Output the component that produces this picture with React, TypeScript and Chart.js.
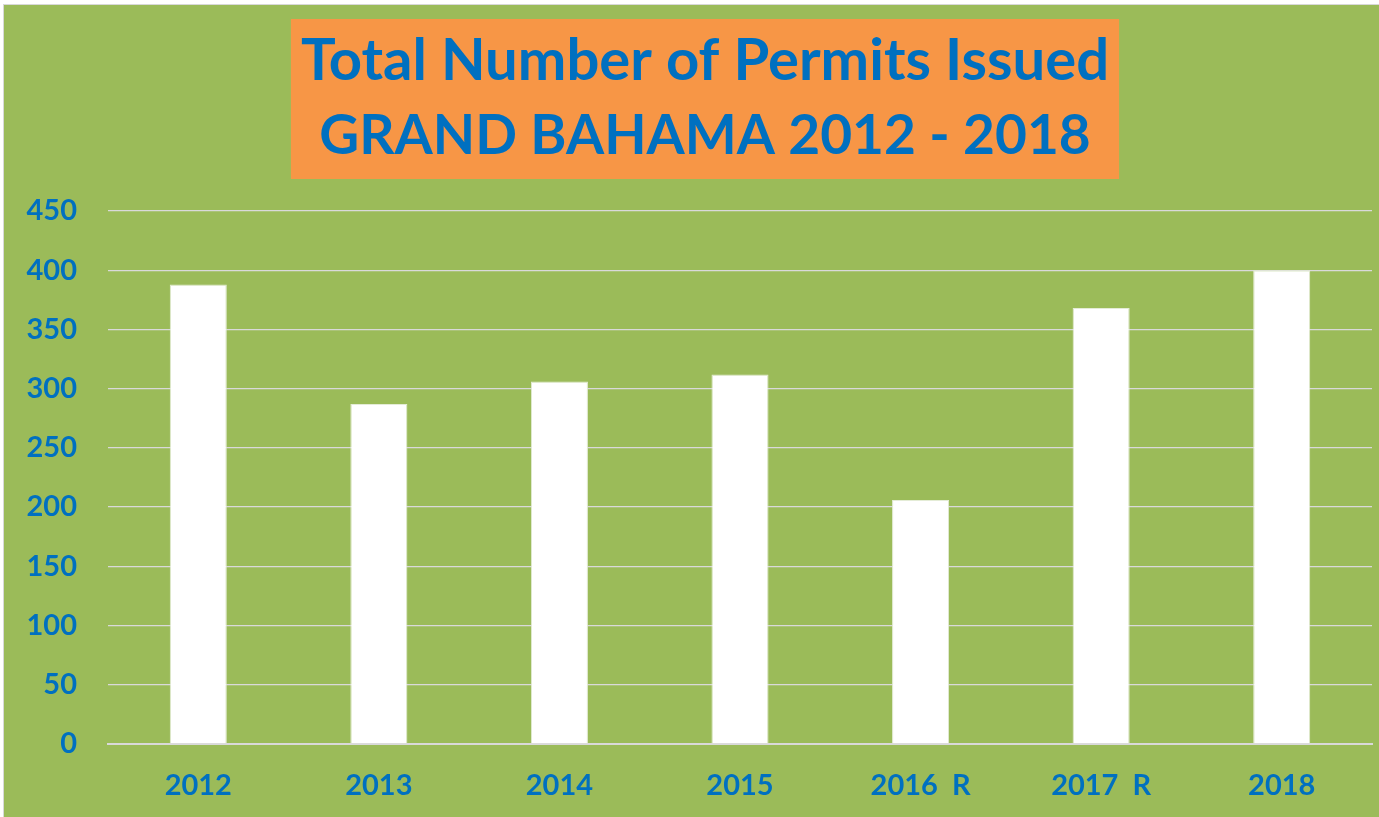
import React, { useEffect, useRef } from "react";
import { Chart, registerables } from "chart.js";

Chart.register(...registerables);

const categories: string[] = ["2012", "2013", "2014", "2015", "2016  R", "2017  R", "2018"];
const permits: number[] = [388, 287, 306, 312, 206, 368, 400];
const yMin = 0;
const yMax = 450;
const yStep = 50;
const titleText = "Total Number of Permits Issued";
const subtitleText = "GRAND BAHAMA 2012 - 2018";

const GREEN = "#9BBB59";
const ORANGE = "#F79646";
const BLUE = "#0070C0";
const GRID = "#D9D9D9";
const FONT = "Lato";
const TITLE_SIZE = 58;
const SUB_SIZE = 55;

const backgroundPlugin = {
  id: "bgAndTitleBox",
  afterLayout(chart: any) {
    // shift the title blocks' centre slightly left of the canvas centre, like the reference
    for (const b of chart.boxes) {
      const t = b.options && b.options.text;
      if (t === titleText || t === subtitleText) b.left = 34;
    }
  },
  beforeDraw(chart: any) {
    const { ctx, width, height } = chart;
    ctx.save();
    ctx.fillStyle = GREEN;
    ctx.fillRect(0, 0, width, height);
    const tb = chart.titleBlock;
    if (tb) {
      ctx.font = `bold ${TITLE_SIZE}px ${FONT}`;
      const w = ctx.measureText(titleText).width + 20;
      const cx = (tb.left + tb.right) / 2;
      ctx.fillStyle = ORANGE;
      ctx.fillRect(cx - w / 2, tb.top + 14, w, 160);
    }
    ctx.restore();
  },
};

export default function App() {
  const ref = useRef<HTMLCanvasElement | null>(null);
  useEffect(() => {
    if (!ref.current) return;
    const chart = new Chart(ref.current, {
      type: "bar",
      data: {
        labels: categories,
        datasets: [
          {
            label: "Permits",
            data: permits,
            backgroundColor: "#FFFFFF",
            borderColor: "#E4ECD6",
            borderWidth: 1,
            categoryPercentage: 1,
            barPercentage: 0.316,
          },
        ],
      },
      plugins: [backgroundPlugin],
      options: {
        animation: false,
        responsive: true,
        maintainAspectRatio: false,
        layout: { padding: { left: 0, right: 7, top: 0, bottom: 13 } },
        plugins: {
          legend: { display: false },
          tooltip: { enabled: false },
          title: {
            display: true,
            text: titleText,
            color: BLUE,
            font: { family: FONT, weight: "bold", size: TITLE_SIZE, lineHeight: "75px" },
            padding: { top: 19, bottom: 0 },
          },
          subtitle: {
            display: true,
            text: subtitleText,
            color: BLUE,
            font: { family: FONT, weight: "bold", size: SUB_SIZE, lineHeight: "75px" },
            padding: { top: 0, bottom: 37 },
          },
        },
        scales: {
          x: {
            afterFit(scale: any) {
              scale.height = 60;
            },
            grid: { display: false, drawTicks: false },
            border: { display: true, color: GRID, width: 2 },
            ticks: {
              color: BLUE,
              font: { family: FONT, weight: "bold", size: 29 },
              padding: 24,
              maxRotation: 0,
              autoSkip: false,
            },
          },
          y: {
            min: yMin,
            max: yMax,
            afterFit(scale: any) {
              scale.width = 104;
            },
            grid: { color: GRID, lineWidth: 1.3, drawTicks: false },
            border: { display: false },
            ticks: {
              stepSize: yStep,
              color: BLUE,
              font: { family: FONT, weight: "bold", size: 29 },
              padding: 31,
            },
          },
        },
      },
    });
    return () => chart.destroy();
  }, []);
  return (
    <div
      style={{
        position: "fixed",
        left: 3,
        top: 4,
        width: 1375,
        height: 812,
        borderTop: "1px solid #D8D8D8",
        borderLeft: "1px solid #D8D8D8",
      }}
    >
      <canvas ref={ref} />
    </div>
  );
}
